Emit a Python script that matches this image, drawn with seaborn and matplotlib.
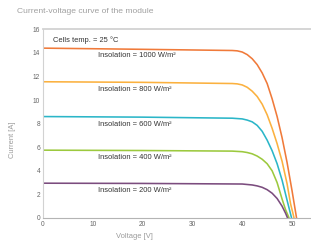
import matplotlib
matplotlib.use("Agg")
import matplotlib.pyplot as plt
import seaborn as sns
import pandas as pd
from matplotlib.ticker import MultipleLocator

# ---- data ----
insolations = [1000, 800, 600, 400, 200]

v_1000 = [0, 20, 38, 39, 40, 41, 42, 43, 44, 45, 46, 47, 48, 49, 50, 50.9]
i_1000 = [14.4, 14.3, 14.2, 14.17, 14.07, 13.85, 13.5, 13.0, 12.3, 11.4, 10.1, 8.6, 6.8, 4.7, 2.3, 0]

v_800 = [0, 20, 38, 39, 40, 41, 42, 43, 44, 45, 46, 47, 48, 49, 49.7, 50.4]
i_800 = [11.55, 11.5, 11.4, 11.37, 11.28, 11.08, 10.75, 10.3, 9.65, 8.75, 7.6, 6.3, 4.8, 2.9, 1.2, 0]

v_600 = [0, 20, 38, 40, 41, 42, 43, 44, 45, 46, 47, 48, 49, 49.9]
i_600 = [8.6, 8.55, 8.46, 8.4, 8.3, 8.15, 7.85, 7.35, 6.6, 5.7, 4.6, 3.2, 1.5, 0]

v_400 = [0, 20, 38, 40, 41, 42, 43, 44, 45, 46, 47, 48, 48.7, 49.4]
i_400 = [5.75, 5.72, 5.67, 5.62, 5.55, 5.44, 5.25, 4.98, 4.6, 4.0, 3.0, 1.6, 0.7, 0]

v_200 = [0, 20, 40, 42, 43, 44, 45, 46, 47, 48, 48.7, 49.1]
i_200 = [2.95, 2.93, 2.88, 2.8, 2.72, 2.6, 2.4, 2.1, 1.65, 1.0, 0.4, 0]

x_ticks = [0, 10, 20, 30, 40, 50]
y_ticks = [0, 2, 4, 6, 8, 10, 12, 14, 16]

title = "Current-voltage curve of the module"
temp_label = "Cells temp. = 25 °C"
x_label = "Voltage [V]"
y_label = "Current [A]"

series = {1000: (v_1000, i_1000), 800: (v_800, i_800), 600: (v_600, i_600),
          400: (v_400, i_400), 200: (v_200, i_200)}
colors = {1000: "#f07a3a", 800: "#fbb13f", 600: "#2bb6c8", 400: "#9cc93e", 200: "#7b4c7e"}

rows = []
for ins in insolations:
    vs, cs = series[ins]
    for v, c in zip(vs, cs):
        rows.append({"Voltage": v, "Current": c, "Insolation": ins})
df = pd.DataFrame(rows)

sns.set_style("white")
plt.rcParams["font.family"] = ["Liberation Sans Narrow", "Liberation Sans", "DejaVu Sans"]

fig = plt.figure(figsize=(3.11, 2.48), dpi=100)
ax = fig.add_axes([0.138, 0.121, 0.862, 0.761])

sns.lineplot(data=df, x="Voltage", y="Current", hue="Insolation", palette=colors,
             hue_order=insolations, estimator=None, sort=True, linewidth=1.15,
             legend=False, ax=ax)
for line in ax.lines:
    line.set_solid_joinstyle("round")

ax.set_xlim(0, 53.8)
ax.set_ylim(0, 16)
ax.set_xticks(x_ticks)
ax.xaxis.set_minor_locator(MultipleLocator(5))
ax.set_yticks(y_ticks)

label_grey = "#9a9a9a"
ax.tick_params(axis="both", which="both", direction="in", length=2, width=0.6,
               color="#cfcfcf", labelsize=4.8, labelcolor="#666666", pad=2)
ax.tick_params(axis="x", which="minor", length=1.5)

for side in ["left", "bottom", "top"]:
    ax.spines[side].set_color("#d2d2d2")
    ax.spines[side].set_linewidth(0.8)
ax.spines["top"].set_linewidth(1.3)
ax.spines["bottom"].set_color("#b4b4b4")
ax.spines["right"].set_visible(False)

ax.set_xlabel(x_label, fontsize=5.4, color=label_grey)
ax.xaxis.set_label_coords(0.343, -0.08)
ax.set_ylabel(y_label, fontsize=5.4, color=label_grey)
ax.yaxis.set_label_coords(-0.1, 0.413)

fig.text(17 / 311, 1 - 11.7 / 248, title, fontsize=6.1, color="#a0a0a0",
         ha="left", va="center")

ax.text(2.0, 15.05, temp_label, fontsize=5.4, color="#333333", ha="left", va="center")
for ins in insolations:
    vs, cs = series[ins]
    ax.text(11.0, cs[0] - 0.65, f"Insolation = {ins} W/m²", fontsize=5.4,
            color="#333333", ha="left", va="center")

fig.savefig("out.png", dpi=100, facecolor="white")
